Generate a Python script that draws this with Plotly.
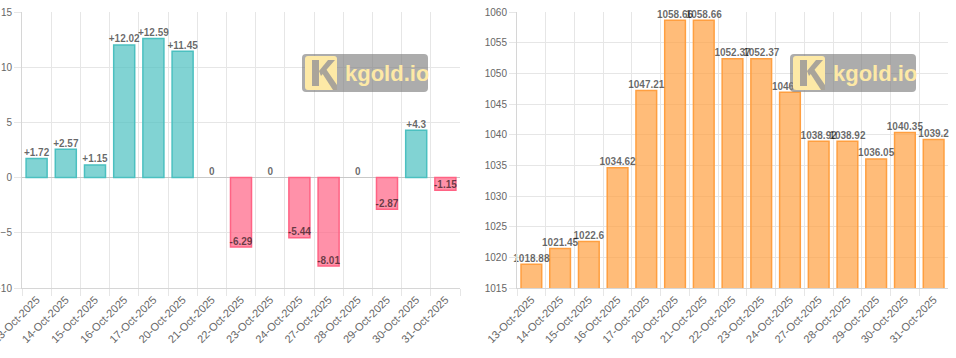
import plotly.graph_objects as go

W, H = 956, 358

dates = ["13-Oct-2025", "14-Oct-2025", "15-Oct-2025", "16-Oct-2025", "17-Oct-2025",
         "20-Oct-2025", "21-Oct-2025", "22-Oct-2025", "23-Oct-2025", "24-Oct-2025",
         "27-Oct-2025", "28-Oct-2025", "29-Oct-2025", "30-Oct-2025", "31-Oct-2025"]
changes = [1.72, 2.57, 1.15, 12.02, 12.59, 11.45, 0, -6.29, 0, -5.44, -8.01, 0, -2.87, 4.3, -1.15]
prices = [1018.88, 1021.45, 1022.6, 1034.62, 1047.21, 1058.66, 1058.66, 1052.37, 1052.37,
          1046.93, 1038.92, 1038.92, 1036.05, 1040.35, 1039.2]
change_ticks = [-10, -5, 0, 5, 10, 15]
price_ticks = [1015, 1020, 1025, 1030, 1035, 1040, 1045, 1050, 1055, 1060]


def fmt_change(v):
    if v > 0:
        return "+" + ("%g" % v)
    return "%g" % v


change_labels = [fmt_change(v) for v in changes]
price_labels = ["%g" % v for v in prices]

pos_fill, pos_line = "rgba(75,192,192,0.7)", "rgb(75,192,192)"
neg_fill, neg_line = "rgba(255,99,132,0.7)", "rgb(255,99,132)"
org_fill, org_line = "rgba(255,159,64,0.7)", "rgb(255,159,64)"

FONT = "Liberation Sans, Arial, Helvetica, sans-serif"
LBL = dict(family=FONT, size=10, color="rgba(0,0,0,0.6)", weight="bold")

fig = go.Figure()
fig.add_trace(go.Bar(
    x=dates, y=changes, xaxis="x", yaxis="y",
    marker=dict(color=[pos_fill if v >= 0 else neg_fill for v in changes],
                line=dict(color=[pos_line if v >= 0 else neg_line for v in changes],
                          width=[1.5 if v != 0 else 0 for v in changes])),
    hoverinfo="skip", showlegend=False))
fig.add_trace(go.Scatter(
    x=dates, y=changes, xaxis="x", yaxis="y", mode="text", text=change_labels,
    textposition="top center", textfont=LBL, cliponaxis=False, showlegend=False,
    hoverinfo="skip"))
fig.add_trace(go.Bar(
    x=dates, y=prices, xaxis="x2", yaxis="y2",
    marker=dict(color=org_fill, line=dict(color=org_line, width=1.5)),
    hoverinfo="skip", showlegend=False))
fig.add_trace(go.Scatter(
    x=dates, y=prices, xaxis="x2", yaxis="y2", mode="text", text=price_labels,
    textposition="top center", textfont=LBL, cliponaxis=False, showlegend=False,
    hoverinfo="skip"))


def px_x(p):
    return p / W


def px_y(p):
    return 1 - p / H


YTICKF = dict(family=FONT, size=10, color="#666")
XTICKF = dict(family=FONT, size=11, color="#666")
GRID = "#e6e6e6"

xcommon = dict(type="category", tickson="boundaries", ticks="outside", ticklen=7,
               tickcolor=GRID, showgrid=True, gridcolor=GRID, gridwidth=1,
               tickangle=-45, tickfont=XTICKF, showline=True, linecolor="#d6d6d6",
               automargin=False, fixedrange=True, range=[-0.5, 14.5])
ycommon = dict(ticks="outside", ticklen=7, tickcolor=GRID, showgrid=True, gridcolor=GRID,
               tickfont=YTICKF, showline=True, linecolor="#d6d6d6", automargin=False,
               fixedrange=True)

ydom = [px_y(288), px_y(12)]
fig.update_layout(
    width=W, height=H, margin=dict(l=0, r=0, t=0, b=0),
    paper_bgcolor="white", plot_bgcolor="white", bargap=0.28,
    xaxis=dict(domain=[px_x(22), px_x(460)], anchor="y", **xcommon),
    yaxis=dict(domain=ydom, anchor="x", range=[-10, 15], tickvals=change_ticks,
               zeroline=True, zerolinecolor="#c8c8c8", zerolinewidth=1, **ycommon),
    xaxis2=dict(domain=[px_x(517), px_x(948)], anchor="y2", **xcommon),
    yaxis2=dict(domain=ydom, anchor="x2", range=[1015, 1060], tickvals=price_ticks,
                zeroline=False, **ycommon),
)


def rr_path(x0, y0, x1, y1, r):
    pts = []
    pts.append("M %f,%f" % (px_x(x0 + r), px_y(y0)))
    pts.append("L %f,%f" % (px_x(x1 - r), px_y(y0)))
    pts.append("Q %f,%f %f,%f" % (px_x(x1), px_y(y0), px_x(x1), px_y(y0 + r)))
    pts.append("L %f,%f" % (px_x(x1), px_y(y1 - r)))
    pts.append("Q %f,%f %f,%f" % (px_x(x1), px_y(y1), px_x(x1 - r), px_y(y1)))
    pts.append("L %f,%f" % (px_x(x0 + r), px_y(y1)))
    pts.append("Q %f,%f %f,%f" % (px_x(x0), px_y(y1), px_x(x0), px_y(y1 - r)))
    pts.append("L %f,%f" % (px_x(x0), px_y(y0 + r)))
    pts.append("Q %f,%f %f,%f Z" % (px_x(x0), px_y(y0), px_x(x0 + r), px_y(y0)))
    return " ".join(pts)


def poly_path(pts, ox, oy):
    s = "M " + " L ".join("%f,%f" % (px_x(ox + a), px_y(oy + b)) for a, b in pts)
    return s + " Z"


YEL = "#fde9a6"
WM_GRAY = "rgba(128,128,128,0.65)"
for left in (302, 790):
    top = 54
    fig.add_shape(type="path", xref="paper", yref="paper", layer="above",
                  path=rr_path(left, top, left + 126, top + 38, 4),
                  fillcolor=WM_GRAY, line=dict(width=0))
    ix, iy = left + 3, top + 2
    fig.add_shape(type="path", xref="paper", yref="paper", layer="above",
                  path=rr_path(ix, iy, ix + 32, iy + 34, 3),
                  fillcolor=YEL, line=dict(width=0))
    kcol = "#a9a49a"
    fig.add_shape(type="path", xref="paper", yref="paper", layer="above",
                  path=poly_path([(7, 4), (14, 4), (14, 30), (7, 30)], ix, iy),
                  fillcolor=kcol, line=dict(width=0))
    fig.add_shape(type="path", xref="paper", yref="paper", layer="above",
                  path=poly_path([(14, 15), (23, 4), (30, 4), (16, 20)], ix, iy),
                  fillcolor=kcol, line=dict(width=0))
    fig.add_shape(type="path", xref="paper", yref="paper", layer="above",
                  path=poly_path([(17, 17), (21, 13), (32, 29), (32, 34), (28, 34)], ix, iy),
                  fillcolor=kcol, line=dict(width=0))
    fig.add_annotation(text="kgold.io", xref="paper", yref="paper",
                       x=px_x(left + 41), y=px_y(top + 19), xanchor="left", yanchor="middle",
                       showarrow=False,
                       font=dict(family=FONT, size=22, color=YEL, weight="bold"))

fig.write_html("out.html", config={"displayModeBar": False},
               post_script="document.body.style.margin='0';document.body.style.overflow='hidden';")
